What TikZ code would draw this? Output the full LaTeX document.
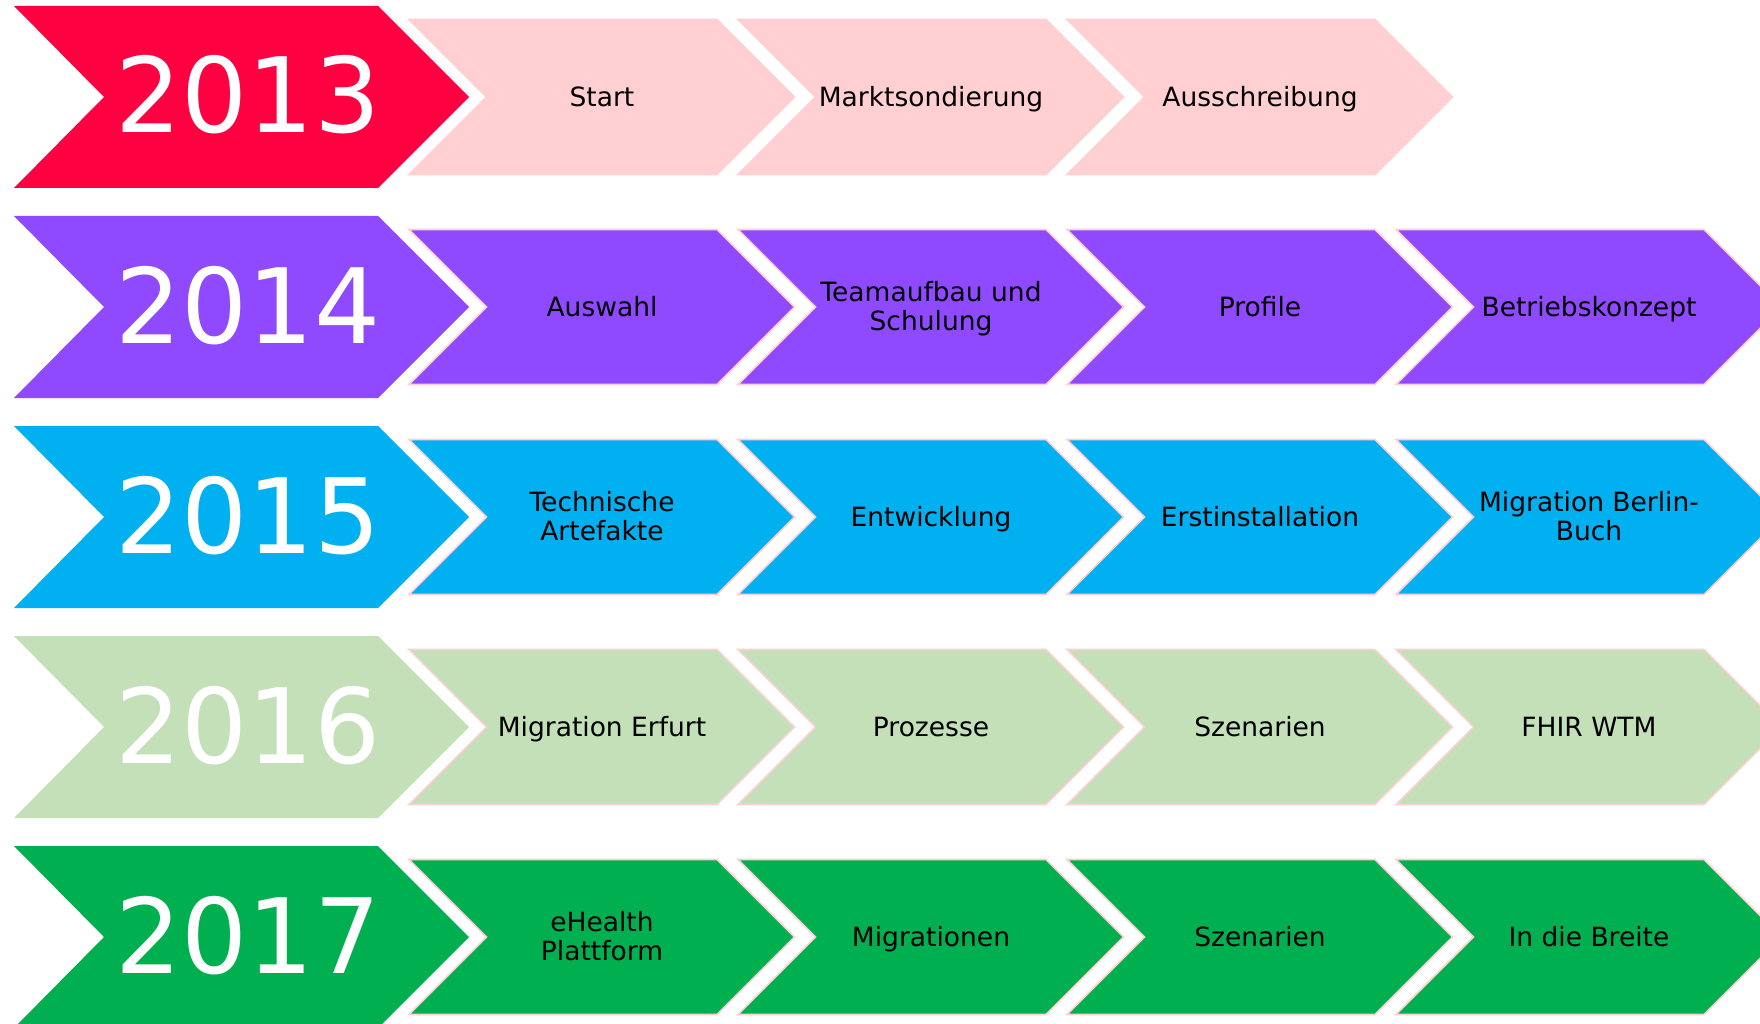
\documentclass[tikz,border=0pt]{standalone}
\usepackage{fontspec}
\setmainfont{DejaVu Sans}
\usetikzlibrary{calc}
\definecolor{redyear}{HTML}{FF0041}
\definecolor{pinkstep}{HTML}{FFCFD2}
\definecolor{purplestep}{HTML}{8F49FF}
\definecolor{cyanstep}{HTML}{00B0F0}
\definecolor{lightgreenstep}{HTML}{C3E0B8}
\definecolor{greenstep}{HTML}{00B050}
\tikzset{
  yeartext/.style={text=white, font=\fontsize{104}{104}\selectfont, inner sep=0pt, text height=76pt, text depth=0pt},
  steptext/.style={text=black, align=center, font=\fontsize{26.5}{29}\selectfont, inner sep=0pt, text depth=0.5pt},
  oneline/.style={text height=19.3pt},
  twoline/.style={text height=48.3pt},
  stepline/.style={draw=pinkstep, line width=1.6pt, line join=miter}
}
% year chevron: (name, centre y) [colour] label
\def\yearchevron(#1,#2)[#3]#4{\fill[#3] (14,#2-91) -- (378,#2-91) -- (469,#2) -- (378,#2+91) -- (14,#2+91) -- (104,#2) -- cycle;
  \node[yeartext] (#1) at (248,#2-2) {#4};}
% step chevron: (name, left x, centre y, lines) [colour] label
\def\stepchevron(#1,#2,#3,#4)[#5]#6{\draw[stepline, fill=#5] (#2,#3-77.5) -- ++(308,0) -- ++(77.5,77.5) -- ++(-77.5,77.5) -- ++(-308,0) -- ++(77.5,-77.5) -- cycle;
  \node[steptext, #4] (#1) at (#2+193,#3) {#6};}

\begin{document}
\begin{tikzpicture}[x=1pt, y=-1pt]
			%%%%% START %%%%%
			\useasboundingbox (0,0) rectangle (1760,1024);
			\clip (0,0) rectangle (1760,1024);
			
			% 2013
			\yearchevron(y2013,97)[redyear]{2013}
			\stepchevron(start,409,97,oneline)[pinkstep]{Start}
			\stepchevron(markt,738,97,oneline)[pinkstep]{Marktsondierung}
			\stepchevron(ausschr,1067,97,oneline)[pinkstep]{Ausschreibung}
			
			% 2014
			\yearchevron(y2014,307)[purplestep]{2014}
			\stepchevron(auswahl,409,307,oneline)[purplestep]{Auswahl}
			\stepchevron(team,738,307,twoline)[purplestep]{Teamaufbau und\\Schulung}
			\stepchevron(profile,1067,307,oneline)[purplestep]{Profile}
			\stepchevron(betrieb,1396,307,oneline)[purplestep]{Betriebskonzept}
			
			% 2015
			\yearchevron(y2015,517)[cyanstep]{2015}
			\stepchevron(technik,409,517,twoline)[cyanstep]{Technische\\Artefakte}
			\stepchevron(entw,738,517,oneline)[cyanstep]{Entwicklung}
			\stepchevron(erstinst,1067,517,oneline)[cyanstep]{Erstinstallation}
			\stepchevron(migbb,1396,517,twoline)[cyanstep]{Migration Berlin-\\Buch}
			
			% 2016
			\yearchevron(y2016,727)[lightgreenstep]{2016}
			\stepchevron(migerf,409,727,oneline)[lightgreenstep]{Migration Erfurt}
			\stepchevron(prozesse,738,727,oneline)[lightgreenstep]{Prozesse}
			\stepchevron(szen16,1067,727,oneline)[lightgreenstep]{Szenarien}
			\stepchevron(fhir,1396,727,oneline)[lightgreenstep]{FHIR WTM}
			
			% 2017
			\yearchevron(y2017,937)[greenstep]{2017}
			\stepchevron(ehealth,409,937,twoline)[greenstep]{eHealth\\Plattform}
			\stepchevron(migs,738,937,oneline)[greenstep]{Migrationen}
			\stepchevron(szen17,1067,937,oneline)[greenstep]{Szenarien}
			\stepchevron(breite,1396,937,oneline)[greenstep]{In die Breite}
			
			%%%%% END %%%%%
		\end{tikzpicture}
\end{document}
